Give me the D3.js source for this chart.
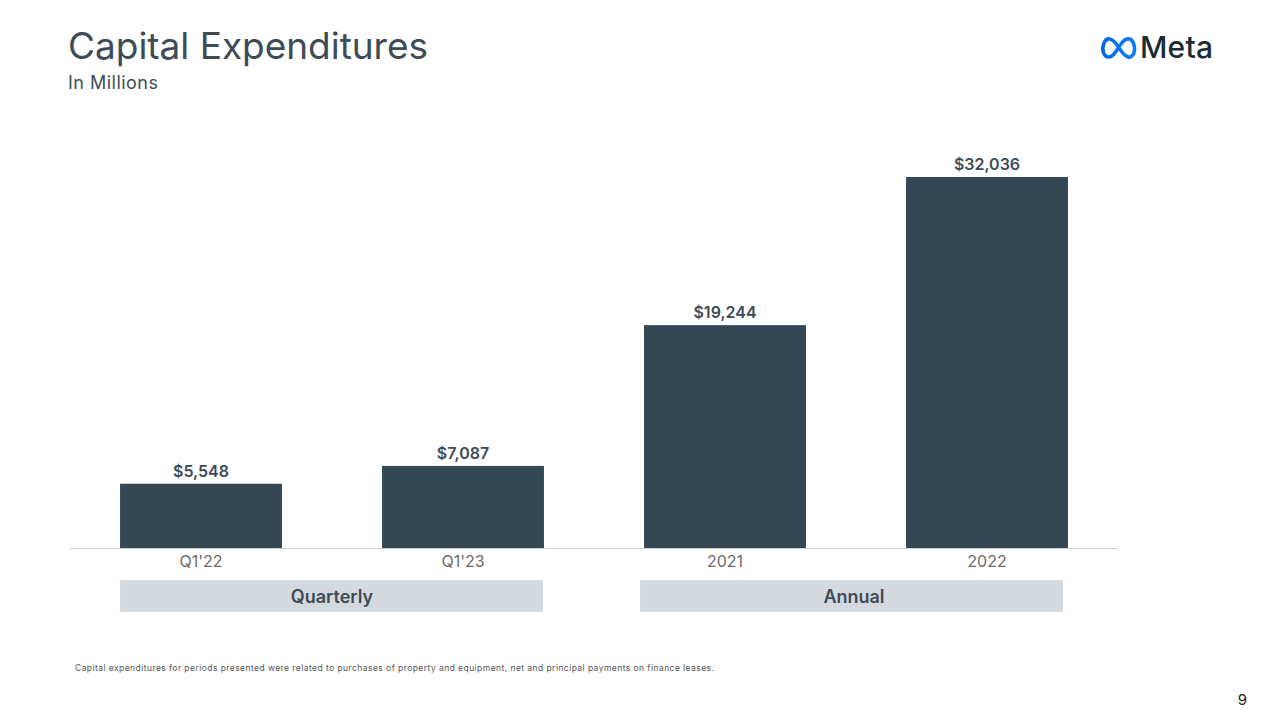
<!DOCTYPE html>
<html>
<head>
<meta charset="utf-8">
<script src="https://cdn.jsdelivr.net/npm/d3@7"></script>
<style>
  body { margin: 0; background: #fff; }
  svg { display: block; font-family: Inter, "Open Sans", sans-serif; }
</style>
</head>
<body>
<svg id="chart" width="1280" height="725"></svg>
<script>
(function () {'use strict';

var categories = ["Q1'22", "Q1'23", '2021', '2022'];
var values     = [5548, 7087, 19244, 32036];
var groups     = [
    { name: 'Quarterly', from: "Q1'22", to: "Q1'23" },
    { name: 'Annual',    from: '2021',  to: '2022' }
];

var svg = d3.select('#chart');

var margin = { left: 70, right: 162, top: 177, bottom: 177 },
    baseY  = 548,
    width  = 1280 - margin.left - margin.right,
    barColor = '#344853';

var x = d3.scaleBand()
    .domain(categories)
    .range([margin.left, margin.left + width])
    .paddingInner(0.382)
    .paddingOuter(0.191);

var y = d3.scaleLinear()
    .domain([0, 32036])
    .range([baseY, margin.top]);

// Titles
svg.append('text')
    .attr('x', 68).attr('y', 59)
    .attr('fill', '#3d4b56')
    .attr('font-size', 37)
    .attr('textLength', 360)
    .text('Capital Expenditures');

svg.append('text')
    .attr('x', 68).attr('y', 89)
    .attr('fill', '#3d4b56')
    .attr('font-size', 18)
    .attr('textLength', 90)
    .text('In Millions');

// Meta logo
var grad = svg.append('defs').append('linearGradient')
    .attr('id', 'metaGrad')
    .attr('x1', '0%').attr('x2', '100%');
grad.append('stop').attr('offset', '0%').attr('stop-color', '#0668e1');
grad.append('stop').attr('offset', '100%').attr('stop-color', '#0a7cff');

svg.append('path')
    .attr('d', 'M1119,48 C1113,38 1107,36 1104,43 C1101,50 1104,57 1109,57 C1114,57 1117,49 1121,44 C1126,37 1132,37 1134,45 C1136,53 1132,58 1128,57 C1124,56 1122,52 1119,48')
    .attr('fill', 'none')
    .attr('stroke', 'url(#metaGrad)')
    .attr('stroke-width', 3.6)
    .attr('stroke-linecap', 'round');

svg.append('text')
    .attr('x', 1140).attr('y', 58)
    .attr('fill', '#1c2b33')
    .attr('font-size', 30)
    .attr('font-weight', 500)
    .attr('textLength', 73)
    .text('Meta');

// Baseline
svg.append('line')
    .attr('x1', margin.left).attr('x2', margin.left + width)
    .attr('y1', baseY + 0.5).attr('y2', baseY + 0.5)
    .attr('stroke', '#cfcfcf')
    .attr('stroke-width', 1);

// Bars
svg.selectAll('.bar')
    .data(values)
    .enter().append('rect')
        .attr('class', 'bar')
        .attr('x', function (d, i) { return x(categories[i]); })
        .attr('y', function (d) { return y(d); })
        .attr('width', x.bandwidth())
        .attr('height', function (d) { return baseY - y(d); })
        .attr('fill', barColor);

// Value labels
svg.selectAll('.value')
    .data(values)
    .enter().append('text')
        .attr('class', 'value')
        .attr('x', function (d, i) { return x(categories[i]) + x.bandwidth() / 2; })
        .attr('y', function (d) { return y(d) - 7; })
        .attr('text-anchor', 'middle')
        .attr('fill', '#3d4b56')
        .attr('font-size', 16)
        .attr('font-weight', 600)
        .text(function (d) { return '$' + d3.format(',')(d); });

// Category labels
svg.selectAll('.cat')
    .data(categories)
    .enter().append('text')
        .attr('class', 'cat')
        .attr('x', function (d) { return x(d) + x.bandwidth() / 2; })
        .attr('y', 567)
        .attr('text-anchor', 'middle')
        .attr('fill', '#6b6b6b')
        .attr('font-size', 16)
        .text(function (d) { return d; });

// Group boxes
var g = svg.selectAll('.group')
    .data(groups)
    .enter().append('g')
        .attr('class', 'group');

g.append('rect')
    .attr('x', function (d, i) { return x(d.from) - (i ? 4 : 0); })
    .attr('y', 580)
    .attr('width', function (d) { return x(d.to) + x.bandwidth() - x(d.from) - 1; })
    .attr('height', 32)
    .attr('fill', '#d5dae0');

g.append('text')
    .attr('x', function (d, i) { return (x(d.from) + x(d.to) + x.bandwidth()) / 2 - (i ? 2 : 0); })
    .attr('y', 603)
    .attr('text-anchor', 'middle')
    .attr('fill', '#3d4b56')
    .attr('font-size', 18)
    .attr('font-weight', 600)
    .text(function (d) { return d.name; });

// Footnote
svg.append('text')
    .attr('x', 75).attr('y', 671)
    .attr('fill', '#555')
    .attr('font-size', 8.5)
    .attr('textLength', 639)
    .text('Capital expenditures for periods presented were related to purchases of property and equipment, net and principal payments on finance leases.');

// Page number
svg.append('text')
    .attr('x', 1247).attr('y', 705)
    .attr('text-anchor', 'end')
    .attr('fill', '#222')
    .attr('font-size', 15)
    .text('9');

})();
</script>
</body>
</html>
